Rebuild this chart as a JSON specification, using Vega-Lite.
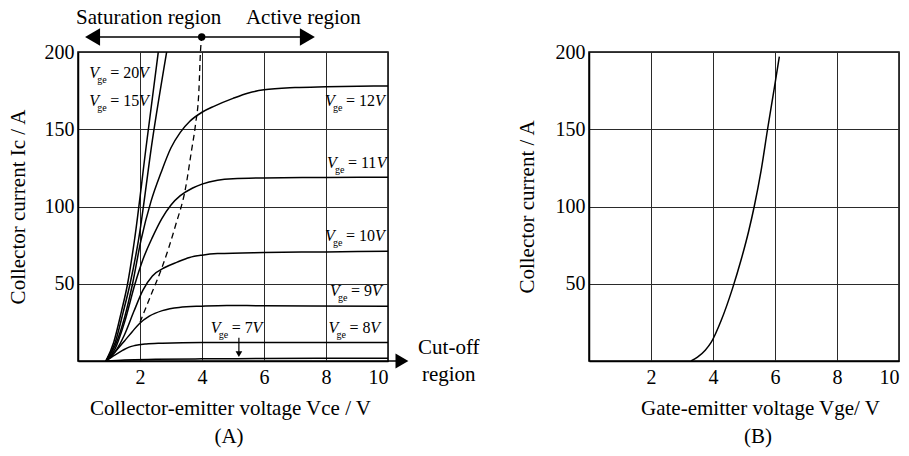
{
  "$schema": "https://vega.github.io/schema/vega-lite/v6.json",
  "autosize": {"type": "pad"},
  "padding": {"left": 6, "top": 6, "right": 0, "bottom": 0},
  "background": "white",
  "spacing": 201,
  "bounds": "flush",
  "config": {
    "font": "Liberation Serif",
    "view": {"stroke": "black", "strokeWidth": 1.5},
    "axis": {
      "labelFont": "Liberation Serif", "labelFontSize": 20, "labelColor": "black",
      "titleFont": "Liberation Serif", "titleFontSize": 21, "titleFontWeight": "normal", "titleColor": "black",
      "domainColor": "black", "domainWidth": 1.5, "ticks": false,
      "gridColor": "#2a2a2a", "gridWidth": 1, "gridOpacity": 1, "labelPadding": 4
    },
    "axisX": {"labelPadding": 6, "titlePadding": 10},
    "title": {"font": "Liberation Serif", "fontSize": 21, "fontWeight": "normal", "color": "black", "offset": 8}
  },
  "datasets": {
    "curves": [
      {"vge": "20", "x": 0.9, "y": 0}, {"vge": "20", "x": 1.15, "y": 12}, {"vge": "20", "x": 1.4, "y": 32}, {"vge": "20", "x": 1.6, "y": 50}, {"vge": "20", "x": 1.82, "y": 78}, {"vge": "20", "x": 2.2, "y": 139}, {"vge": "20", "x": 2.59, "y": 200},
      {"vge": "15", "x": 0.9, "y": 0}, {"vge": "15", "x": 1.2, "y": 12}, {"vge": "15", "x": 1.45, "y": 31}, {"vge": "15", "x": 1.68, "y": 50}, {"vge": "15", "x": 1.95, "y": 78}, {"vge": "15", "x": 2.4, "y": 143}, {"vge": "15", "x": 2.86, "y": 200},
      {"vge": "12", "x": 0.9, "y": 0}, {"vge": "12", "x": 1.2, "y": 10}, {"vge": "12", "x": 1.5, "y": 28}, {"vge": "12", "x": 1.76, "y": 50}, {"vge": "12", "x": 2.03, "y": 78}, {"vge": "12", "x": 2.35, "y": 103}, {"vge": "12", "x": 2.68, "y": 122}, {"vge": "12", "x": 3.0, "y": 138}, {"vge": "12", "x": 3.3, "y": 148}, {"vge": "12", "x": 3.6, "y": 155}, {"vge": "12", "x": 4.0, "y": 161}, {"vge": "12", "x": 4.4, "y": 165}, {"vge": "12", "x": 5.0, "y": 170}, {"vge": "12", "x": 5.5, "y": 173.5}, {"vge": "12", "x": 6.0, "y": 175.5}, {"vge": "12", "x": 7.0, "y": 177}, {"vge": "12", "x": 8.0, "y": 177.5}, {"vge": "12", "x": 10, "y": 178},
      {"vge": "11", "x": 0.9, "y": 0}, {"vge": "11", "x": 1.2, "y": 8}, {"vge": "11", "x": 1.5, "y": 25}, {"vge": "11", "x": 1.84, "y": 50}, {"vge": "11", "x": 2.1, "y": 66}, {"vge": "11", "x": 2.4, "y": 80}, {"vge": "11", "x": 2.7, "y": 92}, {"vge": "11", "x": 3.0, "y": 101}, {"vge": "11", "x": 3.3, "y": 107}, {"vge": "11", "x": 3.7, "y": 112}, {"vge": "11", "x": 4.0, "y": 114.5}, {"vge": "11", "x": 4.5, "y": 117}, {"vge": "11", "x": 5.0, "y": 118}, {"vge": "11", "x": 6.0, "y": 118.5}, {"vge": "11", "x": 8.0, "y": 118.8}, {"vge": "11", "x": 10, "y": 119},
      {"vge": "10", "x": 0.9, "y": 0}, {"vge": "10", "x": 1.2, "y": 6}, {"vge": "10", "x": 1.5, "y": 17}, {"vge": "10", "x": 1.8, "y": 32}, {"vge": "10", "x": 2.1, "y": 46}, {"vge": "10", "x": 2.4, "y": 55}, {"vge": "10", "x": 2.8, "y": 60.5}, {"vge": "10", "x": 3.2, "y": 64}, {"vge": "10", "x": 3.6, "y": 67}, {"vge": "10", "x": 4.0, "y": 68.5}, {"vge": "10", "x": 4.5, "y": 69.5}, {"vge": "10", "x": 6.0, "y": 70.2}, {"vge": "10", "x": 8.0, "y": 70.6}, {"vge": "10", "x": 10, "y": 71},
      {"vge": "9", "x": 0.9, "y": 0}, {"vge": "9", "x": 1.2, "y": 6}, {"vge": "9", "x": 1.5, "y": 13}, {"vge": "9", "x": 1.75, "y": 19}, {"vge": "9", "x": 1.97, "y": 24}, {"vge": "9", "x": 2.3, "y": 29}, {"vge": "9", "x": 2.72, "y": 32.6}, {"vge": "9", "x": 3.26, "y": 34.7}, {"vge": "9", "x": 4.0, "y": 35.5}, {"vge": "9", "x": 4.8, "y": 36}, {"vge": "9", "x": 6.0, "y": 35.7}, {"vge": "9", "x": 10, "y": 35.5},
      {"vge": "8", "x": 0.9, "y": 0}, {"vge": "8", "x": 1.2, "y": 4}, {"vge": "8", "x": 1.45, "y": 7}, {"vge": "8", "x": 1.65, "y": 9}, {"vge": "8", "x": 1.83, "y": 10}, {"vge": "8", "x": 2.2, "y": 11}, {"vge": "8", "x": 2.72, "y": 11.5}, {"vge": "8", "x": 4.0, "y": 12}, {"vge": "8", "x": 6.0, "y": 12}, {"vge": "8", "x": 10, "y": 12},
      {"vge": "7", "x": 0.9, "y": 0}, {"vge": "7", "x": 1.5, "y": 0.7}, {"vge": "7", "x": 2.5, "y": 1.1}, {"vge": "7", "x": 4.0, "y": 1.4}, {"vge": "7", "x": 6.0, "y": 1.6}, {"vge": "7", "x": 10, "y": 1.8}
    ],
    "dashed": [
      {"x": 2.0, "y": 25}, {"x": 2.4, "y": 45}, {"x": 2.7, "y": 60}, {"x": 3.15, "y": 88}, {"x": 3.47, "y": 112}, {"x": 3.66, "y": 136}, {"x": 3.79, "y": 153}, {"x": 3.9, "y": 175}, {"x": 3.95, "y": 200}, {"x": 3.99, "y": 209.7}
    ],
    "vlabels": [
      {"x": 0.36, "y": 183.2, "num": "= 20", "vx": 1.97},
      {"x": 0.36, "y": 165, "num": "= 15", "vx": 1.97},
      {"x": 7.97, "y": 165, "num": "= 12", "vx": 9.58},
      {"x": 8.03, "y": 125, "num": "= 11", "vx": 9.64},
      {"x": 7.97, "y": 77.7, "num": "= 10", "vx": 9.58},
      {"x": 8.13, "y": 42, "num": "= 9", "vx": 9.48},
      {"x": 8.08, "y": 18.3, "num": "= 8", "vx": 9.43},
      {"x": 4.28, "y": 18.3, "num": "= 7", "vx": 5.63}
    ],
    "transfer": [
      {"x": 3.29, "y": 0}, {"x": 3.5, "y": 2.5}, {"x": 3.75, "y": 7}, {"x": 3.94, "y": 12}, {"x": 4.26, "y": 26}, {"x": 4.63, "y": 47}, {"x": 4.9, "y": 65}, {"x": 5.15, "y": 84}, {"x": 5.33, "y": 100}, {"x": 5.55, "y": 123}, {"x": 5.76, "y": 150}, {"x": 5.98, "y": 177}, {"x": 6.14, "y": 197}
    ]
  },
  "hconcat": [
    {
      "width": 310,
      "height": 309,
      "title": {"text": "(A)", "orient": "bottom", "dx": -4},
      "encoding": {
        "x": {"field": "x", "type": "quantitative", "scale": {"domain": [0, 10], "nice": false, "zero": false},
              "axis": {"values": [2, 4, 6, 8, 10], "title": "Collector-emitter voltage Vce / V", "titleX": 152}},
        "y": {"field": "y", "type": "quantitative", "scale": {"domain": [0, 200], "nice": false},
              "axis": {"values": [50, 100, 150, 200], "title": "Collector current Ic / A", "titlePadding": 16}}
      },
      "layer": [
        {"data": {"name": "curves"}, "mark": {"type": "line", "color": "black", "strokeWidth": 1.5, "interpolate": "monotone"},
         "encoding": {"detail": {"field": "vge", "type": "nominal"}}},
        {"data": {"name": "dashed"}, "mark": {"type": "line", "color": "black", "strokeWidth": 1.3, "strokeDash": [6, 4], "interpolate": "monotone"}},
        {"data": {"values": [{"x": 0.47, "x2": 7.4, "y": 209.7}, {"x": 10, "x2": 10.45, "y": 0}]},
         "mark": {"type": "rule", "color": "black", "strokeWidth": 1.5},
         "encoding": {"x2": {"field": "x2"}}},
        {"data": {"values": [{"x": 0.47, "y": 209.7}]}, "mark": {"type": "point", "shape": "triangle-left", "filled": true, "color": "black", "size": 300, "opacity": 1}},
        {"data": {"values": [{"x": 7.4, "y": 209.7}]}, "mark": {"type": "point", "shape": "triangle-right", "filled": true, "color": "black", "size": 300, "opacity": 1}},
        {"data": {"values": [{"x": 10.45, "y": 0}]}, "mark": {"type": "point", "shape": "triangle-right", "filled": true, "color": "black", "size": 220, "opacity": 1}},
        {"data": {"values": [{"x": 3.99, "y": 209.7}]}, "mark": {"type": "point", "shape": "circle", "filled": true, "color": "black", "size": 55, "opacity": 1}},
        {"data": {"values": [{"x": 5.19, "y": 15.1, "y2": 5.8}]}, "mark": {"type": "rule", "color": "black", "strokeWidth": 1.2},
         "encoding": {"y2": {"field": "y2"}}},
        {"data": {"values": [{"x": 5.19, "y": 4.5}]}, "mark": {"type": "point", "shape": "triangle-down", "filled": true, "color": "black", "size": 45, "opacity": 1}},
        {"data": {"values": [{"x": 2.28, "y": 218.1, "t": "Saturation region"}, {"x": 7.27, "y": 218.1, "t": "Active region"}, {"x": 11.96, "y": 4.5, "t": "Cut-off"}, {"x": 11.96, "y": -12.9, "t": "region"}]},
         "mark": {"type": "text", "font": "Liberation Serif", "fontSize": 21, "align": "center", "baseline": "alphabetic", "color": "black"},
         "encoding": {"text": {"field": "t"}}},
        {"data": {"name": "vlabels"}, "mark": {"type": "text", "font": "Liberation Serif", "fontSize": 16, "fontStyle": "italic", "align": "left", "baseline": "alphabetic", "color": "black"},
         "encoding": {"text": {"value": "V"}}},
        {"data": {"name": "vlabels"}, "mark": {"type": "text", "font": "Liberation Serif", "fontSize": 10, "align": "left", "baseline": "alphabetic", "dx": 8, "dy": 5, "color": "black"},
         "encoding": {"text": {"value": "ge"}}},
        {"data": {"name": "vlabels"}, "mark": {"type": "text", "font": "Liberation Serif", "fontSize": 16, "align": "left", "baseline": "alphabetic", "dx": 21, "color": "black"},
         "encoding": {"text": {"field": "num"}}},
        {"data": {"name": "vlabels"}, "mark": {"type": "text", "font": "Liberation Serif", "fontSize": 16, "fontStyle": "italic", "align": "left", "baseline": "alphabetic", "color": "black"},
         "encoding": {"x": {"field": "vx", "type": "quantitative"}, "text": {"value": "V"}}}
      ]
    },
    {
      "width": 310,
      "height": 309,
      "title": {"text": "(B)", "orient": "bottom", "dx": 14},
      "encoding": {
        "x": {"field": "x", "type": "quantitative", "scale": {"domain": [0, 10], "nice": false, "zero": false},
              "axis": {"values": [2, 4, 6, 8, 10], "title": "Gate-emitter voltage Vge/ V", "titleX": 171}},
        "y": {"field": "y", "type": "quantitative", "scale": {"domain": [0, 200], "nice": false},
              "axis": {"values": [50, 100, 150, 200], "title": "Collector current / A", "titlePadding": 18}}
      },
      "layer": [
        {"data": {"name": "transfer"}, "mark": {"type": "line", "color": "black", "strokeWidth": 1.5, "interpolate": "monotone"}}
      ]
    }
  ]
}
